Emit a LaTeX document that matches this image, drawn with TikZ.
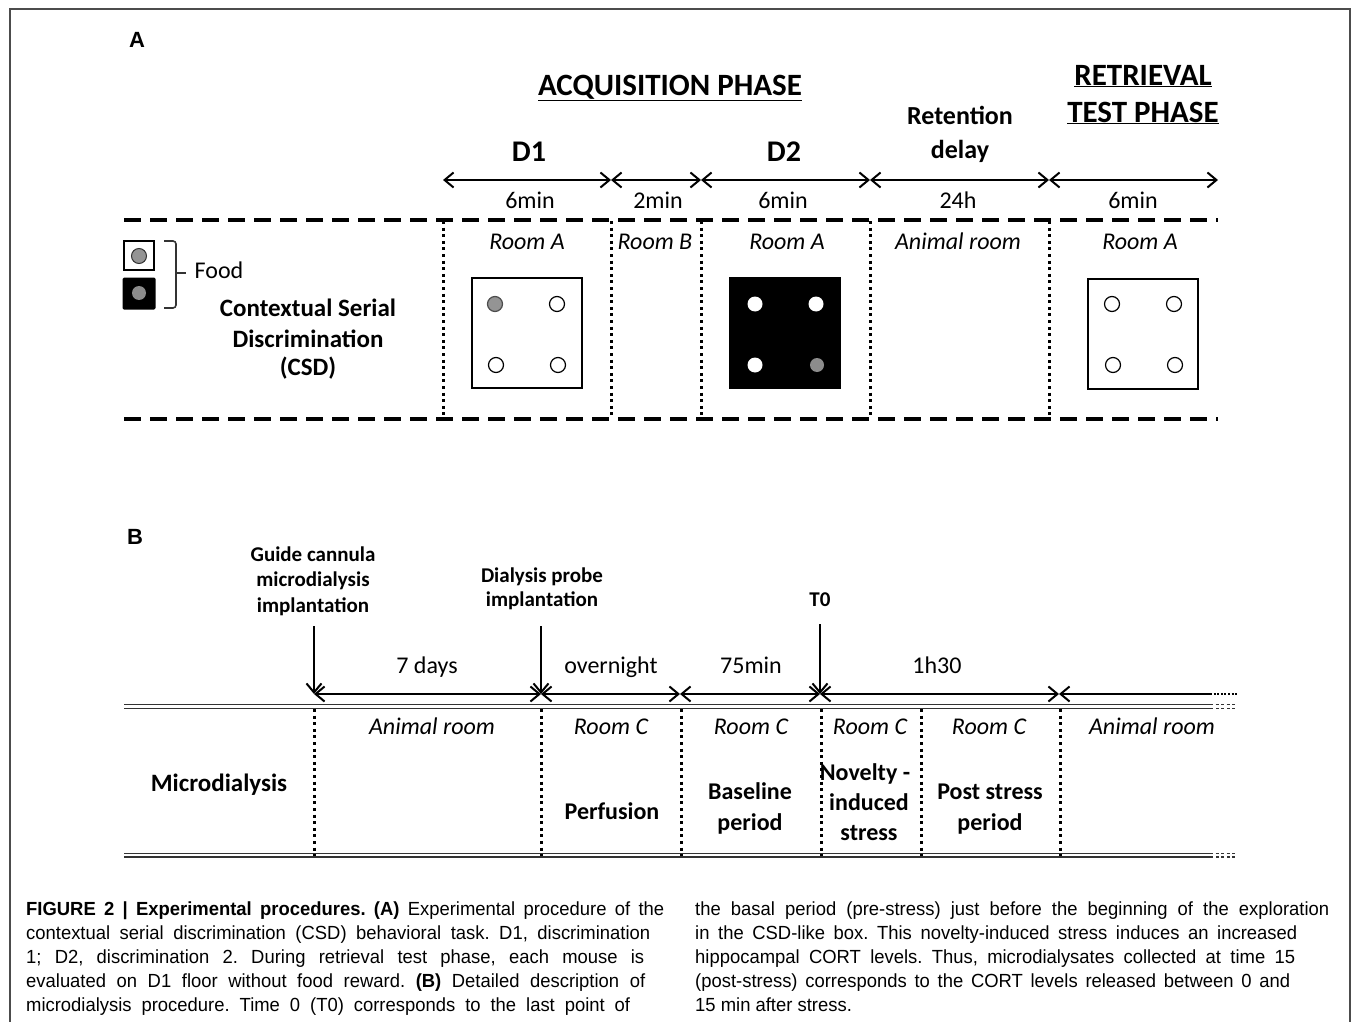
\documentclass[tikz,border=0pt]{standalone}
\usepackage{fontspec}
\setmainfont{Carlito}
\newfontfamily\capfont[FakeStretch=0.97]{Liberation Sans}
\newfontfamily\arialb{Liberation Sans}
\usetikzlibrary{arrows.meta}
\newcommand{\fsz}[1]{\fontsize{#1}{#1}\selectfont}
\newcommand{\capline}[2]{\makebox[#1pt][s]{\frenchspacing #2}}
\begin{document}
\begin{tikzpicture}[x=1pt,y=-1pt,
  bl/.style={inner sep=0pt, text height={0.65*#1pt}, text depth=0pt, font=\bfseries\fsz{#1}},
  rg/.style={inner sep=0pt, text height={0.65*#1pt}, text depth=0pt, font=\fsz{#1}},
  itl/.style={inner sep=0pt, text height=15.6pt, text depth=0pt, font=\itshape\fsz{24}},
  panel/.style={inner sep=0pt, font=\arialb\bfseries\fsz{22}},
  barb/.tip={Straight Barb[length=9pt,width=15pt]},
  tline/.style={line width=2pt, barb-barb},
  downarrow/.style={line width=2pt, -barb},
  dashA/.style={line width=3.5pt, dash pattern=on 17pt off 9pt},
  dotV/.style={line width=3pt, dash pattern=on 3pt off 3.6pt},
  dbl/.style={line width=1.4pt, draw=black!80, double=white, double distance=2.2pt},
  floor/.style={draw, line width=2pt, minimum width=110pt, minimum height=110pt, inner sep=0pt},
  hole/.style={circle, draw, line width=1.2pt, fill=white, minimum size=15pt, inner sep=0pt},
  dotw/.style={circle, fill=white, minimum size=15pt, inner sep=0pt},
  dotg/.style={circle, fill=black!45, minimum size=14pt, inner sep=0pt},
  capl/.style={inner sep=0pt, anchor=base west, font=\capfont\fsz{19}}
]
\useasboundingbox (0,0) rectangle (1352,1022);
\draw[line width=2pt, black!70] (10,1022) -- (10,9) -- (1350,9) -- (1350,1022);

% ---------------- Panel A ----------------
\node[panel] (labA) at (137,40) {A};
\node[bl=31] (acq) at (670,85) {\underline{ACQUISITION PHASE}};
\node[bl=31] (ret1) at (1143,75) {\underline{RETRIEVAL}};
\node[bl=31] (ret2) at (1143,112) {\underline{TEST PHASE}};
\node[bl=26] (rd1) at (960,116) {Retention};
\node[bl=26] (rd2) at (960,150) {delay};
\node[bl=30] (d1) at (529,152) {D1};
\node[bl=30] (d2) at (784,152) {D2};

\coordinate (a0) at (443,180);
\coordinate (a1) at (611,180);
\coordinate (a2) at (701,180);
\coordinate (a3) at (870,180);
\coordinate (a4) at (1049,180);
\coordinate (a5) at (1218,180);
\draw[tline] (a0) -- (a1);
\draw[tline] (a1) -- (a2);
\draw[tline] (a2) -- (a3);
\draw[tline] (a3) -- (a4);
\draw[tline] (a4) -- (a5);

\node[rg=24] (t1) at (530,201) {6min};
\node[rg=24] (t2) at (658,201) {2min};
\node[rg=24] (t3) at (783,201) {6min};
\node[rg=24] (t4) at (958,201) {24h};
\node[rg=24] (t5) at (1133,201) {6min};

\draw[dashA] (124,220) -- (1218,220);
\draw[dashA] (124,419) -- (1218,419);
\foreach \x in {443,611,701,870,1049} \draw[dotV] (\x,221) -- (\x,418);

\node[itl] (r1) at (527,242) {Room A};
\node[itl] (r2) at (655,242) {Room B};
\node[itl] (r3) at (787,242) {Room A};
\node[itl] (r4) at (958,242) {Animal room};
\node[itl] (r5) at (1140,242) {Room A};

% legend
\node[draw, line width=2.5pt, minimum width=30pt, minimum height=29pt, inner sep=0pt] (legw) at (139,255.5) {};
\node[circle, draw=black!80, line width=1pt, fill=black!42, minimum size=15pt, inner sep=0pt] (legwc) at (139,256) {};
\node[fill=black, rounded corners=1.5pt, minimum width=33pt, minimum height=32pt, inner sep=0pt] (legb) at (139,293.5) {};
\node[dotg] (legbc) at (139,293) {};
\draw[line width=1.6pt, black!80, rounded corners=3pt] (164,241) -- (176,241) -- (176,308) -- (164,308);
\draw[line width=1.6pt, black!80] (176,273) -- (186,273);
\node[rg=24] (food) at (219,271) {Food};
\node[bl=25] (csd1) at (308,308) {Contextual Serial};
\node[bl=25] (csd2) at (308,339) {Discrimination};
\node[bl=25] (csd3) at (308,367) {(CSD)};

% D1 floor
\node[floor, fill=white] (f1) at (527,333) {};
\node[hole, fill=black!42, draw=black!70] (f1a) at (495,304) {};
\node[hole] (f1b) at (557,304) {};
\node[hole] (f1c) at (496,365) {};
\node[hole] (f1d) at (558,365) {};
% D2 floor
\node[floor, fill=black] (f2) at (785,333) {};
\node[dotw] (f2a) at (755,304) {};
\node[dotw] (f2b) at (816,304) {};
\node[dotw] (f2c) at (755,365) {};
\node[dotg] (f2d) at (817,365) {};
% test floor
\node[floor, fill=white] (f3) at (1143,333.5) {};
\node[hole] (f3a) at (1112,304) {};
\node[hole] (f3b) at (1174,304) {};
\node[hole] (f3c) at (1113,365) {};
\node[hole] (f3d) at (1175,365) {};

% ---------------- Panel B ----------------
\node[panel] (labB) at (135,537) {B};
\node[bl=21] (g1) at (313,555) {Guide cannula};
\node[bl=21] (g2) at (313,580) {microdialysis};
\node[bl=21] (g3) at (313,606) {implantation};
\node[bl=21] (p1) at (542,576) {Dialysis probe};
\node[bl=21] (p2) at (542,600) {implantation};
\node[bl=21] (t0) at (820,600) {T0};

\coordinate (b0) at (314,694);
\coordinate (b1) at (541,694);
\coordinate (b2) at (680,694);
\coordinate (b3) at (820,694);
\coordinate (b4) at (1059,694);
\coordinate (b5) at (1210,694);
\coordinate (b6) at (1237,694);
\coordinate (v0) at (314,626);
\coordinate (v1) at (541,626);
\coordinate (v3) at (820,624);
\draw[downarrow] (v0) -- (b0);
\draw[downarrow] (v1) -- (b1);
\draw[downarrow] (v3) -- (b3);
\draw[tline] (b0) -- (b1);
\draw[tline] (b1) -- (b2);
\draw[tline] (b2) -- (b3);
\draw[tline] (b3) -- (b4);
\draw[line width=2pt, barb-] (b4) -- (b5);
\draw[line width=2pt, dash pattern=on 2pt off 1.6pt] (b5) -- (b6);

\node[rg=24] (l1) at (427,666) {7 days};
\node[rg=24] (l2) at (611,666) {overnight};
\node[rg=24] (l3) at (751,666) {75min};
\node[rg=24] (l4) at (937,666) {1h30};

\draw[dbl] (124,706.5) -- (1210,706.5);
\draw[dbl] (124,855) -- (1210,855);
\draw[dbl, dash pattern=on 3pt off 2.5pt] (1210,706.5) -- (1237,706.5);
\draw[dbl, dash pattern=on 3pt off 2.5pt] (1210,855) -- (1237,855);
\foreach \x in {314,541,681,821,921,1060} \draw[dotV] (\x,709) -- (\x,856);

\node[itl] (m1) at (432,727) {Animal room};
\node[itl] (m2) at (611,727) {Room C};
\node[itl] (m3) at (751,727) {Room C};
\node[itl] (m4) at (870,727) {Room C};
\node[itl] (m5) at (989,727) {Room C};
\node[itl] (m6) at (1152,727) {Animal room};

\node[bl=25] (micro) at (219,783) {Microdialysis};
\node[bl=24] (perf) at (612,812) {Perfusion};
\node[bl=24] (base1) at (750,792) {Baseline};
\node[bl=24] (base2) at (750,823) {period};
\node[bl=24] (nov1) at (865,773) {Novelty -};
\node[bl=24] (nov2) at (869,803) {induced};
\node[bl=24] (nov3) at (869,833) {stress};
\node[bl=24] (post1) at (990,792) {Post stress};
\node[bl=24] (post2) at (990,823) {period};

% ---------------- Caption ----------------
\node[capl] (cL1) at (26,915) {\capline{638}{\textbf{FIGURE 2 | Experimental procedures. (A)} Experimental procedure of the}};
\node[capl] (cL2) at (26,939) {\capline{624}{contextual serial discrimination (CSD) behavioral task. D1, discrimination}};
\node[capl] (cL3) at (26,963) {\capline{618}{1; D2, discrimination 2. During retrieval test phase, each mouse is}};
\node[capl] (cL4) at (26,987) {\capline{619}{evaluated on D1 floor without food reward. \textbf{(B)} Detailed description of}};
\node[capl] (cL5) at (26,1011) {\capline{604}{microdialysis procedure. Time 0 (T0) corresponds to the last point of}};
\node[capl] (cR1) at (695,915) {\capline{634}{the basal period (pre-stress) just before the beginning of the exploration}};
\node[capl] (cR2) at (695,939) {\capline{602}{in the CSD-like box. This novelty-induced stress induces an increased}};
\node[capl] (cR3) at (695,963) {\capline{600}{hippocampal CORT levels. Thus, microdialysates collected at time 15}};
\node[capl] (cR4) at (695,987) {\capline{595}{(post-stress) corresponds to the CORT levels released between 0 and}};
\node[capl] (cR5) at (695,1011) {\frenchspacing 15 min after stress.};
\end{tikzpicture}
\end{document}
